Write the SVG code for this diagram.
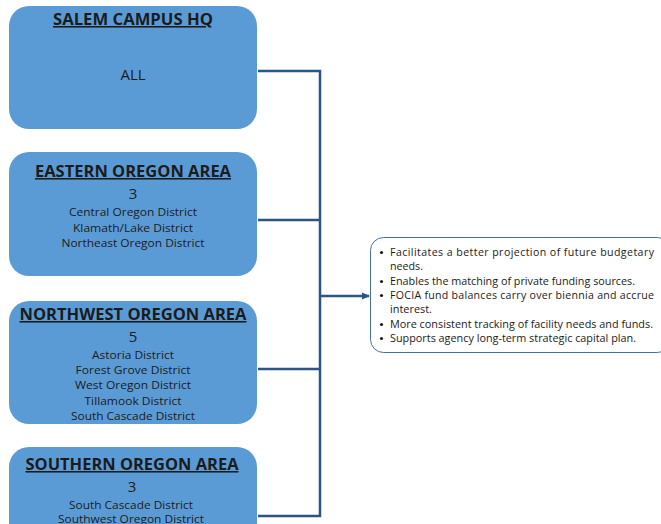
<svg xmlns="http://www.w3.org/2000/svg" width="661" height="524" viewBox="0 0 661 524">
  <style>
    .box { fill: #5B9BD5; }
    .title { font-family: "Open Sans", "Liberation Sans", sans-serif; font-weight: bold; font-size: 15.5px; fill: #1b1b1b; text-anchor: middle; text-decoration: underline; }
    .num { font-family: "Open Sans", "Liberation Sans", sans-serif; font-size: 15px; fill: #1b1b1b; text-anchor: middle; }
    .dist { font-family: "Open Sans", "Liberation Sans", sans-serif; font-size: 11.2px; fill: #1b1b1b; text-anchor: middle; }
    .wire { fill: none; stroke: #2B5585; stroke-width: 2.5; }
    .note { fill: #ffffff; stroke: #41719C; stroke-width: 1; }
    .txt { font-family: "Open Sans", "Liberation Sans", sans-serif; font-size: 10.6px; fill: #1b1b1b; }
    .dot { fill: #1b1b1b; }
  </style>
  <defs>
    <marker id="arrow" markerWidth="8" markerHeight="8" refX="7" refY="4" orient="auto" markerUnits="userSpaceOnUse">
      <path d="M0,0.5 L8,4 L0,7.5 Z" fill="#2B5585"/>
    </marker>
  </defs>

  <g id="salem">
    <rect class="box" x="9" y="6" width="248" height="123" rx="20"/>
    <text class="title" x="133" y="25" textLength="160" lengthAdjust="spacingAndGlyphs">SALEM CAMPUS HQ</text>
    <text class="num" x="133" y="80">ALL</text>
  </g>

  <g id="eastern">
    <rect class="box" x="9" y="152" width="248" height="124" rx="20"/>
    <text class="title" x="133" y="177" textLength="196" lengthAdjust="spacingAndGlyphs">EASTERN OREGON AREA</text>
    <text class="num" x="133" y="199">3</text>
    <text class="dist" x="133" y="216" textLength="128" lengthAdjust="spacingAndGlyphs">Central Oregon District</text>
    <text class="dist" x="133" y="232" textLength="120" lengthAdjust="spacingAndGlyphs">Klamath/Lake District</text>
    <text class="dist" x="133" y="247" textLength="143" lengthAdjust="spacingAndGlyphs">Northeast Oregon District</text>
  </g>

  <g id="northwest">
    <rect class="box" x="9" y="301" width="248" height="123" rx="20"/>
    <text class="title" x="133" y="320" textLength="227" lengthAdjust="spacingAndGlyphs">NORTHWEST OREGON AREA</text>
    <text class="num" x="133" y="342">5</text>
    <text class="dist" x="133" y="359" textLength="82" lengthAdjust="spacingAndGlyphs">Astoria District</text>
    <text class="dist" x="133" y="374" textLength="115" lengthAdjust="spacingAndGlyphs">Forest Grove District</text>
    <text class="dist" x="133" y="389" textLength="116" lengthAdjust="spacingAndGlyphs">West Oregon District</text>
    <text class="dist" x="133" y="405" textLength="97" lengthAdjust="spacingAndGlyphs">Tillamook District</text>
    <text class="dist" x="133" y="420" textLength="124" lengthAdjust="spacingAndGlyphs">South Cascade District</text>
  </g>

  <g id="southern">
    <rect class="box" x="9" y="447" width="248" height="123" rx="20"/>
    <text class="title" x="132" y="470" textLength="213" lengthAdjust="spacingAndGlyphs">SOUTHERN OREGON AREA</text>
    <text class="num" x="132" y="492">3</text>
    <text class="dist" x="131" y="509" textLength="124" lengthAdjust="spacingAndGlyphs">South Cascade District</text>
    <text class="dist" x="131" y="523" textLength="146" lengthAdjust="spacingAndGlyphs">Southwest Oregon District</text>
  </g>

  <g id="benefits">
    <rect class="note" x="370.5" y="237.5" width="300" height="115" rx="13"/>
    <!-- bullet dots -->
    <circle class="dot" cx="381.5" cy="252.5" r="1.6"/>
    <circle class="dot" cx="381.5" cy="281.5" r="1.6"/>
    <circle class="dot" cx="381.5" cy="295.5" r="1.6"/>
    <circle class="dot" cx="381.5" cy="324.5" r="1.6"/>
    <circle class="dot" cx="381.5" cy="338.5" r="1.6"/>
    <g class="txt">
      <text x="390" y="256" textLength="264" lengthAdjust="spacing">Facilitates a better projection of future budgetary</text>
      <text x="390" y="270" textLength="33" lengthAdjust="spacingAndGlyphs">needs.</text>
      <text x="390" y="285" textLength="245" lengthAdjust="spacingAndGlyphs">Enables the matching of private funding sources.</text>
      <text x="390" y="299" textLength="264" lengthAdjust="spacing">FOCIA fund balances carry over biennia and accrue</text>
      <text x="390" y="313" textLength="42" lengthAdjust="spacingAndGlyphs">interest.</text>
      <text x="390" y="328" textLength="263" lengthAdjust="spacingAndGlyphs">More consistent tracking of facility needs and funds.</text>
      <text x="390" y="342" textLength="246" lengthAdjust="spacingAndGlyphs">Supports agency long-term strategic capital plan.</text>
    </g>
  </g>

  <g id="connectors">
    <path class="wire" d="M258 71 H320 V516 H258"/>
    <path class="wire" d="M258 220 H320"/>
    <path class="wire" d="M258 369 H320"/>
    <path class="wire" d="M320 296 H369" marker-end="url(#arrow)"/>
  </g>
</svg>
